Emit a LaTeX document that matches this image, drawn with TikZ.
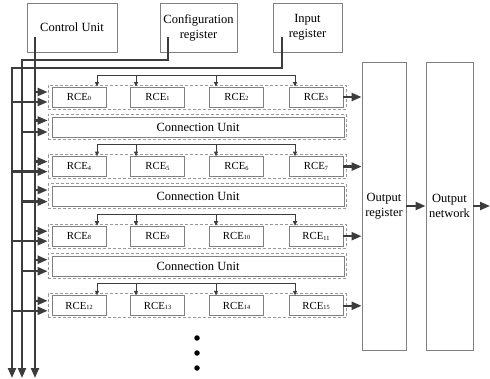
\documentclass[tikz,border=0pt]{standalone}
\usepackage{fontspec}
\setmainfont{Liberation Serif}
\usetikzlibrary{arrows.meta}
\definecolor{ln}{HTML}{3C3C3C}
\definecolor{bx}{HTML}{808080}
\definecolor{dsh}{HTML}{9A9A9A}
\newcommand\sbs[1]{\raisebox{-0.1ex}{\fontsize{6.3}{6.3}\selectfont #1}}
\begin{document}
\begin{tikzpicture}[x=1pt,y=-1pt,
 box/.style={draw=bx, line width=0.9pt, inner sep=0pt, align=center, font=\fontsize{12.5}{15}\selectfont},
 rce/.style={box, minimum width=54pt, minimum height=20pt, font=\fontsize{10.8}{12}\selectfont},
 cunit/.style={box, minimum width=292pt, minimum height=20pt},
 grp/.style={draw=dsh, dash pattern=on 3pt off 2pt, line width=0.8pt, inner sep=0pt, minimum width=298pt},
 bus/.style={draw=ln, line width=2.2pt},
 busarrow/.style={bus, -{Triangle[length=10pt,width=8pt]}},
 dist/.style={draw=ln, line width=0.8pt, -{Triangle[length=4.5pt,width=4pt]}},
 dotn/.style={circle, fill=black, inner sep=0pt, minimum size=5.5pt},
]
\useasboundingbox (0,0) rectangle (490,379);

% top boxes
\node[box, minimum width=90pt, minimum height=49pt] (cu) at (72,27.5) {Control Unit};
\node[box, minimum width=77pt, minimum height=49pt] (cr) at (198.5,27.5) {Configuration\\register};
\node[box, minimum width=69pt, minimum height=49pt] (ir) at (307.5,27.5) {Input\\register};

% output boxes
\node[box, minimum width=44pt, minimum height=288pt] (oreg) at (384,206) {Output\\register};
\node[box, minimum width=47pt, minimum height=288pt] (onet) at (449.5,206) {Output\\network};
\coordinate (outend) at (490,206);
\draw[busarrow] (oreg.east) -- (onet.west);
\draw[busarrow] (onet.east) -- (outend);

% buses
\coordinate (cuo) at (35,37);
\coordinate (cro) at (168,37);
\coordinate (iro) at (282,37);
\coordinate (bC) at (35,378);
\coordinate (bK) at (22,378);
\coordinate (bI) at (12,378);
\draw[busarrow] (cuo) -- (bC);
\draw[busarrow] (cro) -- (168,60) -| (bK);
\draw[busarrow] (iro) -- (282,68) -| (bI);

\foreach \k in {0,...,3} {
  \pgfmathsetmacro\yc{97+69.6*\k}
  \node[grp, minimum height=24pt] (g\k) at (197,\yc) {};
  \foreach \i/\xc in {0/79,1/157.5,2/236.5,3/316} {
    \pgfmathtruncatemacro\n{4*\k+\i}
    \node[rce] (r\k-\i) at (\xc,\yc) {RCE\sbs{\n}};
  }
  % control / input arrows
  \path ([yshift=5pt]g\k.west) coordinate (tu\k) ([yshift=-5pt]g\k.west) coordinate (tl\k);
  \draw[busarrow] (bC |- tu\k) -- (tu\k);
  \draw[busarrow] (bI |- tl\k) -- (tl\k);
  % output arrow
  \draw[busarrow] (r\k-3.east) -- (r\k-3.east -| oreg.west);
  % distribution line
  \path ([xshift=18pt]r\k-0.north) coordinate (a0)
        ([xshift=-21.5pt]r\k-1.north) coordinate (a1)
        ([xshift=-20.5pt]r\k-2.north) coordinate (a2)
        ([xshift=-21pt]r\k-3.north) coordinate (a3);
  \path (a0) ++(0,-11.5) coordinate (dl);
  \draw[dist] (dl) -- (a0);
  \draw[dist] (dl) -| (a3);
  \draw[dist] (a1 |- dl) -- (a1);
  \draw[dist] (a2 |- dl) -- (a2);
}

\foreach \k in {0,...,2} {
  \pgfmathsetmacro\yc{127+69.6*\k}
  \node[grp, minimum height=25pt] (h\k) at (197,\yc-0.5) {};
  \node[cunit] (c\k) at (198,\yc) {Connection Unit};
  \path ([yshift=6pt]h\k.west) coordinate (su\k) ([yshift=-5.5pt]h\k.west) coordinate (sl\k);
  \draw[busarrow] (bC |- su\k) -- (su\k);
  \draw[busarrow] (bK |- sl\k) -- (sl\k);
}

\node[dotn] (dot1) at (197,338) {};
\node[dotn] (dot2) at (197,353) {};
\node[dotn] (dot3) at (197,368) {};
\end{tikzpicture}
\end{document}
